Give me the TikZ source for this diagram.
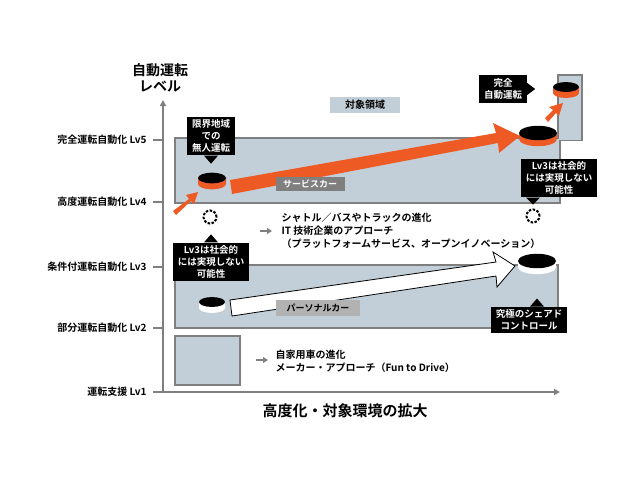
\documentclass[tikz,border=0pt]{standalone}
\usepackage{fontspec}
\setmainfont{Noto Sans CJK JP}[BoldFont={* Bold}]
\usetikzlibrary{arrows.meta,calc}
\definecolor{boxfill}{HTML}{C3CFD8}
\definecolor{boxline}{HTML}{7F7F7F}
\definecolor{org}{HTML}{EE5A24}
\tikzset{
 area/.style={draw=boxline,fill=boxfill,line width=2.5pt},
 lvl/.style={anchor=east,font=\fontsize{10}{12}\selectfont\bfseries},
 call/.style={fill=black,text=white,align=center,font=\fontsize{9.5}{12}\selectfont\bfseries,inner xsep=5pt,inner ysep=3pt},
 txt/.style={anchor=west,align=left,font=\fontsize{10}{13}\selectfont\bfseries},
 garr/.style={-{Triangle[length=5pt,width=6pt]},draw=gray,line width=2pt},
 dcirc/.style={circle,draw=black,dashed,dash pattern=on 2.5pt off 1.5pt,line width=2pt,minimum size=13pt,inner sep=0pt}
}
\newcommand{\disc}[4]{% x,y,rx,sidecolor
 \fill[#4] (#1-#3,#2) -- (#1-#3,#2+6) arc[start angle=180,end angle=0,x radius=#3,y radius=#3*0.38] -- (#1+#3,#2) -- cycle;
 \fill[black] (#1,#2) ellipse[x radius=#3,y radius=#3*0.38];}
\begin{document}
\begin{tikzpicture}[x=1pt,y=-1pt]
\useasboundingbox (0,0) rectangle (640,480);
% axes
\draw[boxline,line width=2pt,-{Triangle[length=6pt,width=6pt]}] (163,392) -- (163,100);
\draw[boxline,line width=2pt,-{Triangle[length=6pt,width=6pt]}] (163,392) -- (560,392);
\foreach \y/\t in {140/完全運転自動化 Lv5,202/高度運転自動化 Lv4,267/条件付運転自動化 Lv3,328/部分運転自動化 Lv2,392/運転支援 Lv1}{
 \draw[boxline,line width=2pt] (153,\y) -- (163,\y);
 \node[lvl] at (150,\y) {\t};}
\node[align=center,font=\fontsize{14}{16}\selectfont\bfseries] (ttl) at (160,78) {自動運転\\レベル};
\node[font=\fontsize{15}{18}\selectfont\bfseries] (xl) at (345,411) {高度化・対象環境の拡大};
% areas
\draw[area] (558,75) rectangle (582,140);
\draw[area] (175,138) rectangle (560,203);
\fill[boxfill] (559,140) rectangle (581,115);
\draw[area] (175,265) rectangle (558,328);
\draw[area] (175,336) rectangle (240,385);
\node[fill=boxfill,font=\fontsize{10}{12}\selectfont\bfseries,minimum width=70pt,minimum height=16pt] (ta) at (365,105) {対象領域};
% orange arrows
\fill[org] (173,211) -- (189,199) -- (186,195) -- (198,192) -- (194,204) -- (191,201) -- (176,215) -- cycle;
\fill[org] (230,180) -- (496,133) -- (493,123) -- (520,136) -- (499,153) -- (498,143) -- (232,194) -- cycle;
\fill[org] (545,118) -- (553,110) -- (549,107) -- (563,103) -- (559,116) -- (556,113) -- (548,122) -- cycle;
% white arrow
\draw[fill=white,line width=0.8pt] (230,300) -- (496,262) -- (493,252) -- (515,266) -- (497,287) -- (496,276) -- (232,316) -- cycle;
\node[fill=boxline,text=white,font=\fontsize{9}{11}\selectfont\bfseries,minimum width=69pt,minimum height=14pt] (sc) at (310,184) {サービスカー};
\node[fill=black!30,font=\fontsize{9}{11}\selectfont\bfseries,minimum width=84pt,minimum height=16pt] (pc) at (318,308) {パーソナルカー};
% discs
\disc{212}{178}{14}{org}
\disc{538}{133}{19}{org}
\disc{566}{87}{13}{org}
\disc{212}{302}{13}{white}
\disc{537}{261}{19}{white}
\node[dcirc] (c1) at (210,217) {};
\node[dcirc] (c2) at (533,216) {};
% callouts
\node[call] (b1) at (211,136) {限界地域\\での\\無人運転};
\fill ($(b1.south)+(-7,0)$) -- ($(b1.south)+(7,0)$) -- ($(b1.south)+(0,8)$) -- cycle;
\node[call] (b2) at (503,89) {完全\\自動運転};
\fill ($(b2.east)+(0,-6)$) -- ($(b2.east)+(0,6)$) -- ($(b2.east)+(8,0)$) -- cycle;
\node[call] (b3) at (559,178) {Lv3は社会的\\には実現しない\\可能性};
\fill ($(b3.south)+(-33,0)$) -- ($(b3.south)+(-19,0)$) -- ($(b3.south)+(-26,7)$) -- cycle;
\node[call] (b4) at (211,262) {Lv3は社会的\\には実現しない\\可能性};
\fill ($(b4.north)+(-7,0)$) -- ($(b4.north)+(7,0)$) -- ($(b4.north)+(0,-8)$) -- cycle;
\node[call] (b5) at (529,320) {究極のシェアド\\コントロール};
\fill ($(b5.north)+(1,0)$) -- ($(b5.north)+(15,0)$) -- ($(b5.north)+(8,-8)$) -- cycle;
% texts
\node[txt] (t1) at (278,231) {シャトル／バスやトラックの進化\\IT 技術企業のアプローチ\\（プラットフォームサービス、オープンイノベーション）};
\draw[garr] (260,231) -- (272,231);
\node[txt] (t2) at (272,361) {自家用車の進化\\メーカー・アプローチ（Fun to Drive）};
\draw[garr] (256,360) -- (268,360);
\end{tikzpicture}
\end{document}
